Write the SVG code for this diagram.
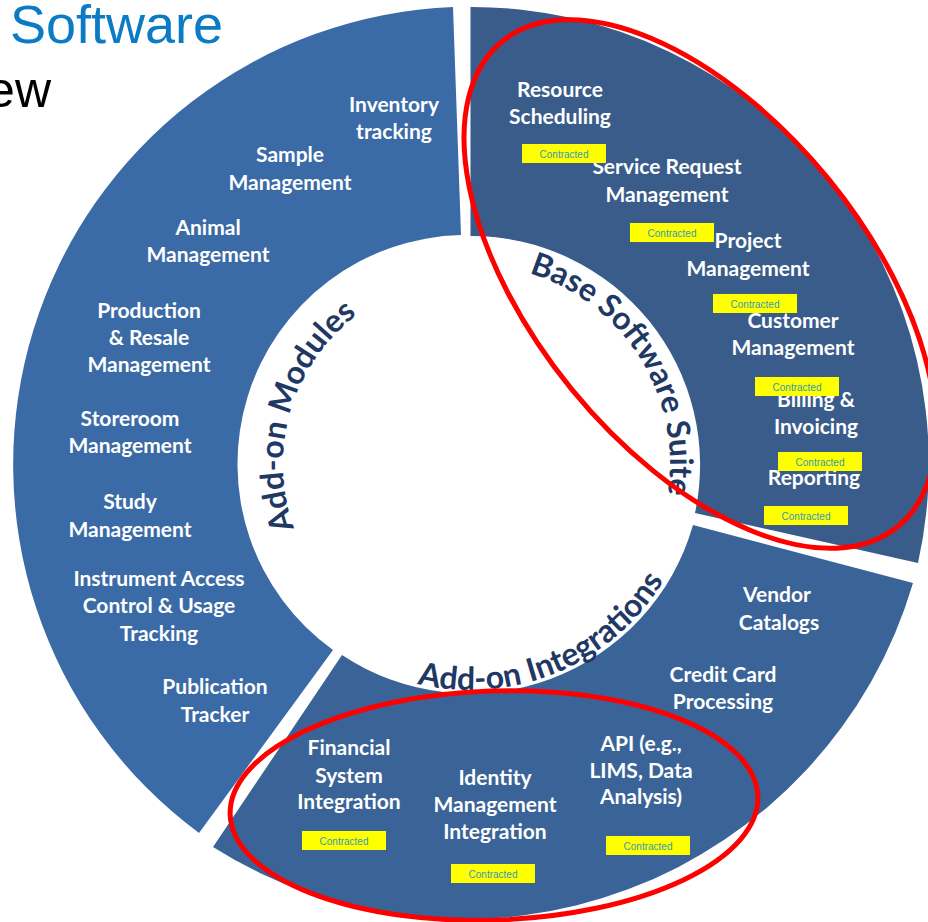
<svg xmlns="http://www.w3.org/2000/svg" xmlns:xlink="http://www.w3.org/1999/xlink" width="928" height="922" viewBox="0 0 928 922">
<style>
.lbl{font-family:Lato,"Open Sans",sans-serif;font-weight:bold;font-size:21px;fill:#ffffff;text-anchor:middle}
.arc{font-family:Lato,"Open Sans",sans-serif;font-weight:bold;font-size:32px;fill:#1F3864;text-anchor:middle}
.box{fill:#FFFF00}
.ctt{font-family:"Liberation Sans",Arial,sans-serif;font-size:10px;fill:#3399BB;text-anchor:middle}
.ring{fill:none;stroke:#FF0000;stroke-width:5}
.title{font-family:"Liberation Sans",Arial,sans-serif}
</style>
<defs>
<path id="pMod" d="M 316.8 571.3 A 187 187 0 0 1 406 288.3"/>
<path id="pBase" d="M 470 264 A 200 200 0 0 1 643.2 564"/>
<path id="pInt" d="M 392.7 676.4 A 226 226 0 0 0 682.4 541.3"/>
</defs>
<rect width="928" height="922" fill="#ffffff"/>
<g id="title">
<text class="title" x="10" y="43" font-size="54" fill="#0B7BC6">Software</text>
<text class="title" x="51" y="107" font-size="50" fill="#000000" text-anchor="end">ew</text>
</g>
<g id="addon-modules">
<path d="M 453 7 A 458 458 0 0 0 199 833 L 333 650 A 229 229 0 0 1 461 235 Z" fill="#3B6BA6"/>
<text class="arc"><textPath xlink:href="#pMod" startOffset="49%">Add-on Modules</textPath></text>
<text class="lbl" x="394" y="112">Inventory</text><text class="lbl" x="394" y="139">tracking</text>
<text class="lbl" x="290" y="162">Sample</text><text class="lbl" x="290" y="190">Management</text>
<text class="lbl" x="208" y="235">Animal</text><text class="lbl" x="208" y="262">Management</text>
<text class="lbl" x="149" y="318">Production</text><text class="lbl" x="149" y="345">&amp; Resale</text><text class="lbl" x="149" y="372">Management</text>
<text class="lbl" x="130" y="426">Storeroom</text><text class="lbl" x="130" y="453">Management</text>
<text class="lbl" x="130" y="509">Study</text><text class="lbl" x="130" y="537">Management</text>
<text class="lbl" x="159" y="586">Instrument Access</text><text class="lbl" x="159" y="613">Control &amp; Usage</text><text class="lbl" x="159" y="641">Tracking</text>
<text class="lbl" x="215" y="694">Publication</text><text class="lbl" x="215" y="722">Tracker</text>
</g>
<g id="base-suite">
<path d="M 470.5 7 A 457 457 0 0 1 918 563 L 695 513 A 229 229 0 0 0 470.5 236 Z" fill="#395C8A"/>
<text class="arc"><textPath xlink:href="#pBase" startOffset="48.3%">Base Software Suite</textPath></text>
<text class="lbl" x="560" y="97">Resource</text><text class="lbl" x="560" y="124">Scheduling</text>
<text class="lbl" x="667" y="174">Service Request</text><text class="lbl" x="667" y="202">Management</text>
<text class="lbl" x="748" y="248">Project</text><text class="lbl" x="748" y="276">Management</text>
<text class="lbl" x="793" y="328">Customer</text><text class="lbl" x="793" y="355">Management</text>
<text class="lbl" x="816" y="407">Billing &amp;</text><text class="lbl" x="816" y="434">Invoicing</text>
<text class="lbl" x="814" y="485">Reporting</text>
<g id="base-contracted">
<rect class="box" x="522" y="144" width="84" height="19"/><text class="ctt" x="564" y="157.5">Contracted</text>
<rect class="box" x="630" y="223" width="84" height="19"/><text class="ctt" x="672" y="236.5">Contracted</text>
<rect class="box" x="713" y="294" width="84" height="19"/><text class="ctt" x="755" y="307.5">Contracted</text>
<rect class="box" x="755" y="377" width="84" height="19"/><text class="ctt" x="797" y="390.5">Contracted</text>
<rect class="box" x="778" y="452" width="84" height="19"/><text class="ctt" x="820" y="465.5">Contracted</text>
<rect class="box" x="764" y="506" width="84" height="19"/><text class="ctt" x="806" y="519.5">Contracted</text>
</g>
</g>
<g id="addon-integrations">
<path d="M 913 583 A 469 469 0 0 1 213 847 L 342 655 A 232 232 0 0 0 693 525 Z" fill="#3A6498"/>
<text class="arc" font-size="33"><textPath xlink:href="#pInt" startOffset="47.5%">Add-on Integrations</textPath></text>
<text class="lbl" x="777" y="602">Vendor</text><text class="lbl" x="779" y="630">Catalogs</text>
<text class="lbl" x="723" y="682">Credit Card</text><text class="lbl" x="723" y="709">Processing</text>
<text class="lbl" x="641" y="751">API (e.g.,</text><text class="lbl" x="641" y="778">LIMS, Data</text><text class="lbl" x="641" y="804">Analysis)</text>
<text class="lbl" x="495" y="785">Identity</text><text class="lbl" x="495" y="812">Management</text><text class="lbl" x="495" y="839">Integration</text>
<text class="lbl" x="349" y="755">Financial</text><text class="lbl" x="349" y="783">System</text><text class="lbl" x="349" y="809">Integration</text>
<g id="int-contracted">
<rect class="box" x="606" y="836" width="84" height="19"/><text class="ctt" x="648" y="849.5">Contracted</text>
<rect class="box" x="451" y="864" width="84" height="19"/><text class="ctt" x="493" y="877.5">Contracted</text>
<rect class="box" x="302" y="831" width="84" height="19"/><text class="ctt" x="344" y="844.5">Contracted</text>
</g>
</g>
<g id="highlights">
<ellipse class="ring" cx="700" cy="284" rx="313" ry="166" transform="rotate(50.8 700 284)"/>
<ellipse class="ring" cx="494" cy="805.5" rx="264" ry="114.5" transform="rotate(-2 494 805.5)"/>
</g>
</svg>
